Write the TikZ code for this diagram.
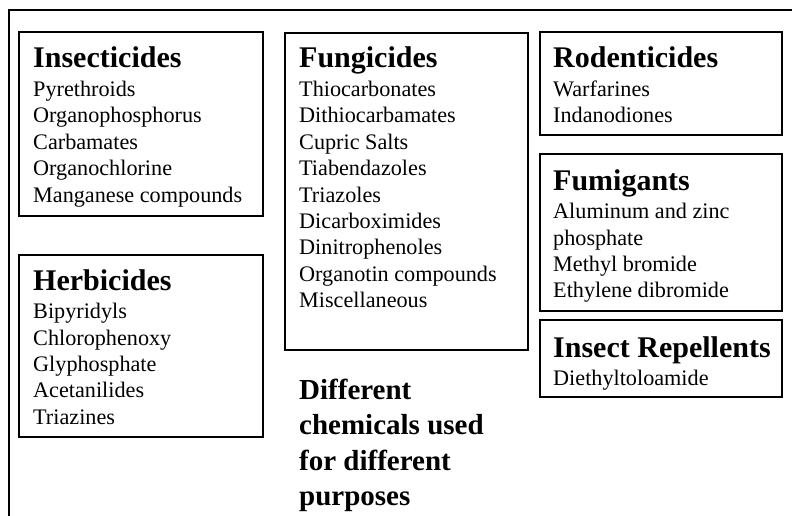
\documentclass[tikz,border=0pt]{standalone}
\usepackage{fontspec}
\setmainfont{Liberation Serif}
\begin{document}
\begin{tikzpicture}[x=1pt,y=-1pt,
  catbox/.style={draw=black,line width=2pt},
  cattext/.style={anchor=base west,inner sep=0pt,font=\fontsize{22.2}{26.4}\selectfont}]
\newcommand{\cattitle}[1]{{\fontsize{30}{26.4}\selectfont\bfseries #1}}
\useasboundingbox (0,0) rectangle (792,516);
\draw[line width=2.2pt] (9,530) -- (9,10) -- (800,10);
% boxes
\draw[catbox] (19,32) rectangle (263,216);
\draw[catbox] (19,255) rectangle (263,437);
\draw[catbox] (285,33) rectangle (528,350);
\draw[catbox] (540,32) rectangle (782,135);
\draw[catbox] (540,154) rectangle (782,311);
\draw[catbox] (540,320) rectangle (782,397);
% texts
\node[cattext] (ins) at (33,68) {\begin{tabular}[t]{@{}l@{}}\cattitle{Insecticides}\\[2.2pt]
Pyrethroids\\ Organophosphorus\\ Carbamates\\ Organochlorine\\ Manganese compounds\end{tabular}};
\node[cattext] (her) at (33,290) {\begin{tabular}[t]{@{}l@{}}\cattitle{Herbicides}\\[2.2pt]
Bipyridyls\\ Chlorophenoxy\\ Glyphosphate\\ Acetanilides\\ Triazines\end{tabular}};
\node[cattext] (fun) at (299,68) {\begin{tabular}[t]{@{}l@{}}\cattitle{Fungicides}\\[2.2pt]
Thiocarbonates\\ Dithiocarbamates\\ Cupric Salts\\ Tiabendazoles\\ Triazoles\\ Dicarboximides\\ Dinitrophenoles\\ Organotin compounds\\ Miscellaneous\end{tabular}};
\node[cattext] (rod) at (553,68) {\begin{tabular}[t]{@{}l@{}}\cattitle{Rodenticides}\\[2.2pt]
Warfarines\\ Indanodiones\end{tabular}};
\node[cattext] (fum) at (553,190) {\begin{tabular}[t]{@{}l@{}}\cattitle{Fumigants}\\[2.2pt]
Aluminum and zinc\\ phosphate\\ Methyl bromide\\ Ethylene dibromide\end{tabular}};
\node[cattext] (rep) at (553,357) {\begin{tabular}[t]{@{}l@{}}\cattitle{Insect Repellents}\\[2.2pt]
Diethyltoloamide\end{tabular}};
\node[anchor=base west,inner sep=0pt,font=\fontsize{29}{35.5}\selectfont\bfseries] (cap) at (299,399)
  {\begin{tabular}[t]{@{}l@{}}Different\\ chemicals used\\ for different\\ purposes\end{tabular}};
\end{tikzpicture}
\end{document}
